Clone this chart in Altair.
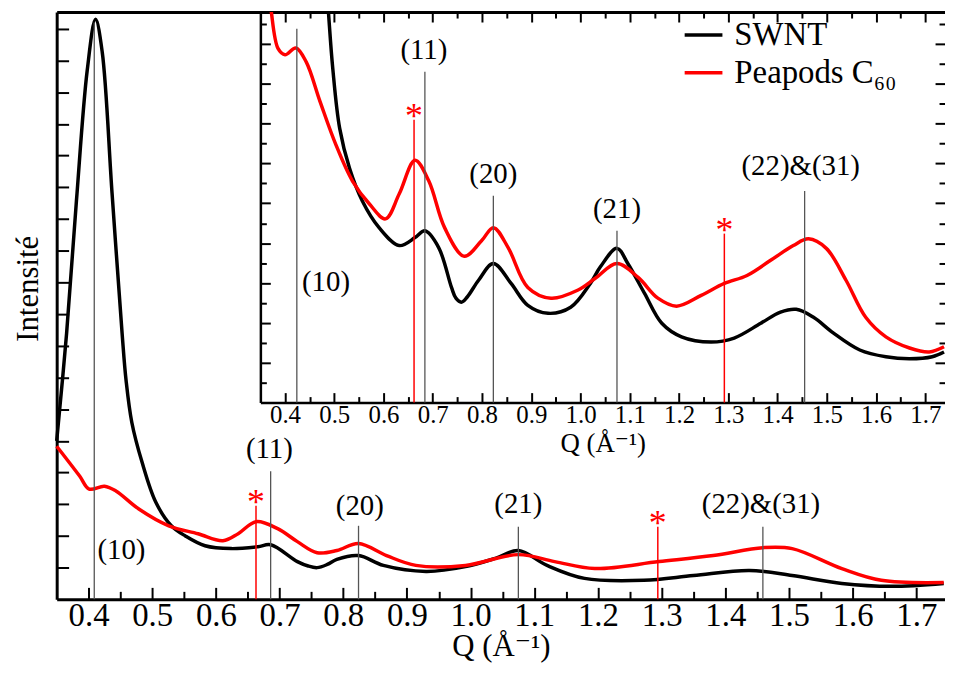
import altair as alt
import pandas as pd

# ---------------- data ----------------
# main panel curves (Q, intensity in arbitrary units)
main_swnt_q = [0.35, 0.3656, 0.381, 0.398, 0.411, 0.4215, 0.437, 0.4527, 0.459, 0.468, 0.484, 0.5055,
               0.530, 0.552, 0.583, 0.624, 0.666, 0.686, 0.728, 0.745, 0.759, 0.775, 0.79, 0.824, 0.863, 0.93,
               0.992, 1.04, 1.075, 1.12, 1.179, 1.272, 1.35, 1.438, 1.505, 1.583, 1.661, 1.743]
main_swnt_i = [5.0, 8.4, 12.57, 16.7, 18.3, 17.27, 12.8, 8.4, 6.9, 5.58, 4.33, 3.07,
               2.32, 2.0, 1.69, 1.6, 1.66, 1.72, 1.19, 1.05, 1.0, 1.1, 1.26, 1.38, 1.07, 0.88,
               1.03, 1.3, 1.54, 1.07, 0.66, 0.6, 0.75, 0.91, 0.75, 0.5, 0.41, 0.5]
main_pea_q = [0.35, 0.386, 0.401, 0.425, 0.443, 0.479, 0.526, 0.572, 0.611, 0.635, 0.663, 0.697,
              0.728, 0.759, 0.79, 0.824, 0.868, 0.914, 0.992, 1.075, 1.132, 1.195, 1.296, 1.381,
              1.459, 1.505, 1.583, 1.645, 1.743]
main_pea_i = [4.83, 3.89, 3.48, 3.57, 3.42, 2.85, 2.32, 2.07, 1.85, 2.07, 2.45, 2.23,
              1.82, 1.47, 1.54, 1.76, 1.38, 1.07, 1.07, 1.41, 1.19, 0.97, 1.19, 1.38,
              1.63, 1.6, 0.97, 0.6, 0.53]

# inset curves
ins_swnt_q = [0.475, 0.487, 0.497, 0.511, 0.531, 0.557, 0.591, 0.632, 0.664, 0.684, 0.712, 0.738,
              0.747, 0.758, 0.77, 0.793, 0.823, 0.859, 0.893, 0.934, 0.98, 1.02, 1.04, 1.074, 1.096, 1.13,
              1.165, 1.205, 1.265, 1.312, 1.366, 1.406, 1.438, 1.473, 1.513, 1.567, 1.62, 1.668,
              1.714, 1.738]
ins_swnt_i = [12.0, 10.0, 8.38, 6.88, 5.88, 5.06, 4.39, 3.94, 4.14, 4.31, 3.89, 2.89,
              2.62, 2.52, 2.65, 3.07, 3.49, 2.99, 2.44, 2.24, 2.39, 2.99, 3.4, 3.87, 3.49, 2.74,
              1.99, 1.65, 1.52, 1.62, 1.99, 2.27, 2.34, 2.14, 1.75, 1.32, 1.15, 1.1,
              1.15, 1.27]
ins_pea_q = [0.355, 0.37, 0.386, 0.40, 0.422, 0.443, 0.471, 0.503, 0.537, 0.571, 0.604, 0.632,
             0.664, 0.692, 0.724, 0.764, 0.799, 0.823, 0.853, 0.893, 0.94, 0.994, 1.03, 1.074,
             1.117, 1.157, 1.195, 1.245, 1.292, 1.338, 1.386, 1.432, 1.463, 1.499, 1.539, 1.579,
             1.62, 1.668, 1.708, 1.738]
ins_pea_i = [11.2, 10.0, 8.88, 8.73, 8.9, 8.55, 7.56, 6.48, 5.56, 4.99, 4.61, 5.24,
             6.08, 5.56, 4.39, 3.67, 4.06, 4.39, 3.89, 2.89, 2.62, 2.82, 3.12, 3.49,
             3.14, 2.62, 2.42, 2.69, 2.99, 3.19, 3.57, 3.94, 4.11, 3.87, 3.07, 2.14,
             1.65, 1.37, 1.27, 1.4]

series_names = ["SWNT", "Peapods C\u2086\u2080"]
series_colors = ["black", "red"]

# reflection markers: main panel
main_hkl_q = [0.409, 0.686, 0.824, 1.075, 1.459]
main_hkl_top = [18.2, 4.04, 2.32, 2.29, 2.29]
main_hkl_text = ["(10)", "(11)", "(20)", "(21)", "(22)&(31)"]
main_hkl_tq = [0.414, 0.684, 0.826, 1.075, 1.456]
main_hkl_ty = [1.54, 4.73, 2.95, 3.0, 3.0]
main_hkl_left = [True, False, False, False, False]
main_star_q = [0.663, 1.294]
main_star_top = [2.95, 2.29]

# reflection markers: inset
ins_hkl_q = [0.424, 0.684, 0.823, 1.074, 1.455]
ins_hkl_top = [9.38, 8.3, 5.19, 4.31, 5.31]
ins_hkl_text = ["(10)", "(11)", "(20)", "(21)", "(22)&(31)"]
ins_hkl_tq = [0.4345, 0.682, 0.823, 1.074, 1.447]
ins_hkl_ty = [3.02, 8.85, 5.74, 4.86, 5.94]
ins_hkl_left = [True, False, False, False, False]
ins_star_q = [0.662, 1.292]
ins_star_top = [7.1, 4.24]

# axes ticks
main_x_major = [0.4, 0.5, 0.6, 0.7, 0.8, 0.9, 1.0, 1.1, 1.2, 1.3, 1.4, 1.5, 1.6, 1.7]
main_x_minor = [0.45, 0.55, 0.65, 0.75, 0.85, 0.95, 1.05, 1.15, 1.25, 1.35, 1.45, 1.55, 1.65]
main_y_ticks = list(range(1, 19))
ins_y_major = list(range(1, 10))
ins_y_minor = [0.5, 1.5, 2.5, 3.5, 4.5, 5.5, 6.5, 7.5, 8.5, 9.5]

# ---------------- geometry ----------------
W, H = 894, 591
MAIN_X = [0.35, 1.745]
MAIN_Y = [0, 18.53]
INS_X = [0.35, 1.74]
INS_Y = [0, 9.8]
INS_XR = [205, W]
INS_YR = [393, 0]
INS_BOTTOM_OFF = 393 - H
INS_LEFT_OFF = -205
FONT = "Liberation Serif, Times New Roman, Tinos, DejaVu Serif, serif"
INTERP = "catmull-rom"


def mx(field, axis=None):
    return alt.X(field, type="quantitative", scale=alt.Scale(domain=MAIN_X, nice=False, zero=False),
                 axis=axis)


def my(field, axis=None):
    return alt.Y(field, type="quantitative", scale=alt.Scale(domain=MAIN_Y, nice=False, zero=False),
                 axis=axis)


def ix(field, axis=None):
    return alt.X(field, type="quantitative",
                 scale=alt.Scale(domain=INS_X, range=INS_XR, nice=False, zero=False), axis=axis)


def iy(field, axis=None):
    return alt.Y(field, type="quantitative",
                 scale=alt.Scale(domain=INS_Y, range=INS_YR, nice=False, zero=False), axis=axis)


def tick_axis(orient, values, size, offset, labels=False, **kw):
    kw.setdefault("title", None)
    return alt.Axis(orient=orient, values=values, tickSize=size, offset=offset, domain=False,
                    labels=labels, grid=False, tickColor="black", tickWidth=2, **kw)


def domain_axis(orient, offset, width=2.5, **kw):
    kw.setdefault("title", None)
    return alt.Axis(orient=orient, offset=offset, domain=True, ticks=False, labels=False, grid=False,
                    domainColor="black", domainWidth=width, **kw)


color_enc = alt.Color("series:N", scale=alt.Scale(domain=series_names, range=series_colors),
                      legend=alt.Legend(orient="none", legendX=630, legendY=2, title=None,
                                        symbolType="stroke", symbolSize=1444, symbolStrokeWidth=3.5,
                                        labelFont=FONT, labelFontSize=33, labelColor="black",
                                        labelOffset=10, rowPadding=0, padding=0, labelLimit=400),
                      sort=series_names)

# ---------------- frames ----------------
main_df = pd.concat([
    pd.DataFrame({"q": main_swnt_q, "i": main_swnt_i, "series": series_names[0], "o": range(len(main_swnt_q))}),
    pd.DataFrame({"q": main_pea_q, "i": main_pea_i, "series": series_names[1], "o": range(len(main_pea_q))}),
])
ins_df = pd.concat([
    pd.DataFrame({"q": ins_swnt_q, "i": ins_swnt_i, "series": series_names[0], "o": range(len(ins_swnt_q))}),
    pd.DataFrame({"q": ins_pea_q, "i": ins_pea_i, "series": series_names[1], "o": range(len(ins_pea_q))}),
])
main_hkl = pd.DataFrame({"q": main_hkl_q, "top": main_hkl_top, "b": 0})
main_lab = pd.DataFrame({"q": main_hkl_tq, "y": main_hkl_ty, "t": main_hkl_text, "left": main_hkl_left})
main_star = pd.DataFrame({"q": main_star_q, "top": main_star_top, "b": 0, "t": "*"})
ins_hkl = pd.DataFrame({"q": ins_hkl_q, "top": ins_hkl_top, "b": 0})
ins_lab = pd.DataFrame({"q": ins_hkl_tq, "y": ins_hkl_ty, "t": ins_hkl_text, "left": ins_hkl_left})
ins_star = pd.DataFrame({"q": ins_star_q, "top": ins_star_top, "b": 0, "t": "*"})

LABEL_SIZE = 29
STAR_SIZE = 36
STAR_DY = 8

# ---------------- main layers ----------------
L1 = alt.Chart(main_df).mark_line(strokeWidth=3.5, interpolate=INTERP).encode(
    x=mx("q", tick_axis("bottom", main_x_major, 12, -12, labels=True, format=".1f",
                        labelFont=FONT, labelFontSize=33, labelColor="black", labelPadding=0,
                        labelFlush=False, labelOverlap=False,
                        title="Q (\u00c5\u207b\u00b9)", titleFont=FONT, titleFontSize=31,
                        titleFontWeight="normal", titleColor="black", titlePadding=0)),
    y=my("i", tick_axis("left", main_y_ticks, 12, -12)),
    color=color_enc, order="o:Q", detail="series:N",
)
L2 = alt.Chart(main_hkl).mark_rule(color="#555555", strokeWidth=1.3).encode(
    x=mx("q", tick_axis("bottom", main_x_minor, 8, -8)),
    y=my("b", domain_axis("left", 0, 3, title="Intensit\u00e9", titleFont=FONT, titleFontSize=31,
                          titleFontWeight="normal", titleColor="black", titleAngle=270,
                          titleBaseline="bottom", titleAlign="center", titleX=-12, titleY=278)),
    y2="top",
)
L3 = alt.Chart(main_star).mark_rule(color="red", strokeWidth=1.5).encode(
    x=mx("q", domain_axis("bottom", 0, 3)),
    y=my("b", None), y2="top",
)
L4 = alt.Chart(main_lab).transform_filter("!datum.left").mark_text(
    font=FONT, fontSize=LABEL_SIZE, color="black", baseline="middle", align="center").encode(
    x=mx("q", domain_axis("top", 0, 3)),
    y=my("y", None), text="t:N",
)
L4b = alt.Chart(main_lab).transform_filter("datum.left").mark_text(
    font=FONT, fontSize=LABEL_SIZE, color="black", baseline="middle", align="left").encode(
    x=mx("q", None), y=my("y", None), text="t:N",
)
L5 = alt.Chart(main_star).mark_text(font=FONT, fontSize=STAR_SIZE, color="red", baseline="alphabetic",
                                    dy=STAR_DY).encode(
    x=mx("q", None), y=my("top", None), text="t:N",
)

# ---------------- inset layers ----------------
L6 = alt.Chart(ins_df).mark_line(strokeWidth=3.5, interpolate=INTERP, clip=True).encode(
    x=ix("q", tick_axis("bottom", main_x_major, 10, INS_BOTTOM_OFF - 10, labels=True, format=".1f",
                        labelFont=FONT, labelFontSize=25, labelColor="black", labelPadding=0,
                        labelFlush=False, labelOverlap=False,
                        title="Q (\u00c5\u207b\u00b9)", titleFont=FONT, titleFontSize=27,
                        titleFontWeight="normal", titleColor="black", titlePadding=3)),
    y=iy("i", tick_axis("left", ins_y_major, 10, INS_LEFT_OFF - 10)),
    color=color_enc, order="o:Q", detail="series:N",
)
L7 = alt.Chart(ins_hkl).mark_rule(color="#555555", strokeWidth=1.3).encode(
    x=ix("q", tick_axis("bottom", main_x_minor, 6, INS_BOTTOM_OFF - 6)),
    y=iy("b", tick_axis("left", ins_y_minor, 6, INS_LEFT_OFF - 6)),
    y2="top",
)
L8 = alt.Chart(ins_star).mark_rule(color="red", strokeWidth=1.5).encode(
    x=ix("q", domain_axis("bottom", INS_BOTTOM_OFF, 2.5)),
    y=iy("b", domain_axis("left", INS_LEFT_OFF, 2.5)),
    y2="top",
)
L9 = alt.Chart(ins_lab).transform_filter("!datum.left").mark_text(
    font=FONT, fontSize=LABEL_SIZE, color="black", baseline="middle", align="center").encode(
    x=ix("q", tick_axis("top", main_x_major, 10, -10)),
    y=iy("y", tick_axis("right", ins_y_major, 10, -10)),
    text="t:N",
)
L9b = alt.Chart(ins_lab).transform_filter("datum.left").mark_text(
    font=FONT, fontSize=LABEL_SIZE, color="black", baseline="middle", align="left").encode(
    x=ix("q", None), y=iy("y", None), text="t:N",
)
L10 = alt.Chart(ins_star).mark_text(font=FONT, fontSize=STAR_SIZE, color="red", baseline="alphabetic",
                                    dy=STAR_DY).encode(
    x=ix("q", tick_axis("top", main_x_minor, 6, -6)),
    y=iy("top", tick_axis("right", ins_y_minor, 6, -6)),
    text="t:N",
)

chart = alt.layer(L1, L2, L3, L4, L4b, L5, L6, L7, L8, L9, L9b, L10).resolve_scale(
    x="independent", y="independent"
).properties(
    width=W, height=H,
    autosize=alt.AutoSizeParams(type="none"),
    padding={"left": 49, "top": 2, "right": 0, "bottom": 62},
).configure(font=FONT).configure_view(stroke=None)

chart.save("out.html", embed_options={"renderer": "svg", "actions": False})
